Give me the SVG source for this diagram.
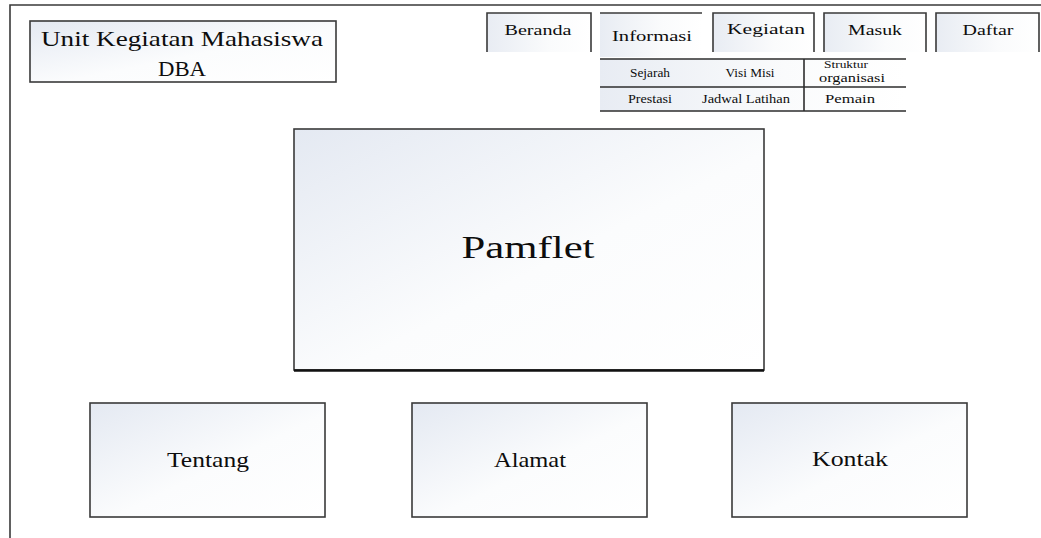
<svg xmlns="http://www.w3.org/2000/svg" width="1041" height="538" viewBox="0 0 1041 538">
  <defs>
    <linearGradient id="panelFill" x1="0" y1="0" x2="1" y2="1">
      <stop offset="0" stop-color="#e4e9f2"/>
      <stop offset="0.55" stop-color="#fbfcfd"/>
      <stop offset="1" stop-color="#ffffff"/>
    </linearGradient>
    <linearGradient id="rowFill" x1="0" y1="0" x2="1" y2="0">
      <stop offset="0" stop-color="#e8ecf3"/>
      <stop offset="0.6" stop-color="#fafbfc"/>
      <stop offset="1" stop-color="#ffffff"/>
    </linearGradient>
    <style>
      .frame { fill: none; stroke: #3a3a3a; stroke-width: 1.6; }
      .box { fill: url(#panelFill); stroke: #3a3a3a; stroke-width: 1.6; }
      .edge { fill: none; stroke: #3a3a3a; stroke-width: 1.6; }
      .row { fill: url(#rowFill); stroke: none; }
      .rule { stroke: #2e2e2e; stroke-width: 1.6; fill: none; }
      text { font-family: "Liberation Serif", "Times New Roman", serif; fill: #0d0d0d; text-anchor: middle; }
      .tab { font-size: 14px; }
      .cell { font-size: 12px; }
      .cellsm { font-size: 10px; }
      .title { font-size: 21px; }
      .big { font-size: 31px; }
      .mid { font-size: 21px; }
    </style>
  </defs>

  <rect x="0" y="0" width="1041" height="538" fill="#ffffff"/>

  <!-- page frame: top and left edges -->
  <g id="page-frame">
    <path class="frame" d="M10 538 V5 H1041"/>
  </g>

  <!-- site title -->
  <g id="title">
    <rect class="box" x="30" y="21" width="306" height="61"/>
    <text class="title" x="182" y="46" textLength="282" lengthAdjust="spacingAndGlyphs">Unit Kegiatan Mahasiswa</text>
    <text class="title" x="182" y="76" textLength="48" lengthAdjust="spacingAndGlyphs">DBA</text>
  </g>

  <!-- navigation tabs -->
  <g id="tab-beranda">
    <rect class="row" x="487" y="13" width="104" height="39"/>
    <path class="edge" d="M487 52 V13 H591 V52"/>
    <text class="tab" x="538" y="35" textLength="67" lengthAdjust="spacingAndGlyphs">Beranda</text>
  </g>
  <g id="tab-informasi">
    <rect class="row" x="600" y="13" width="102" height="44"/>
    <path class="edge" d="M600 13 H702"/>
    <text class="tab" x="652" y="41" textLength="80" lengthAdjust="spacingAndGlyphs">Informasi</text>
  </g>
  <g id="tab-kegiatan">
    <rect class="row" x="713" y="13" width="101" height="39"/>
    <path class="edge" d="M713 52 V13 H814 V52"/>
    <text class="tab" x="766" y="34" textLength="78" lengthAdjust="spacingAndGlyphs">Kegiatan</text>
  </g>
  <g id="tab-masuk">
    <rect class="row" x="824" y="13" width="102" height="39"/>
    <path class="edge" d="M824 52 V13 H926 V52"/>
    <text class="tab" x="875" y="35" textLength="54" lengthAdjust="spacingAndGlyphs">Masuk</text>
  </g>
  <g id="tab-daftar">
    <rect class="row" x="936" y="13" width="103" height="39"/>
    <path class="edge" d="M936 52 V13 H1039 V52"/>
    <text class="tab" x="988" y="35" textLength="51" lengthAdjust="spacingAndGlyphs">Daftar</text>
  </g>

  <!-- Informasi dropdown menu -->
  <g id="menu-informasi">
    <rect class="row" x="600" y="59" width="306" height="28"/>
    <rect class="row" x="600" y="87" width="306" height="24"/>
    <path class="rule" d="M600 59 H906 M600 87 H906 M600 111 H906 M804 59 V111"/>
    <text class="cell" x="650" y="77" textLength="40" lengthAdjust="spacingAndGlyphs">Sejarah</text>
    <text class="cell" x="750" y="77" textLength="49" lengthAdjust="spacingAndGlyphs">Visi Misi</text>
    <text class="cellsm" x="846" y="68" textLength="44" lengthAdjust="spacingAndGlyphs">Struktur</text>
    <text class="cell" x="852" y="82" textLength="66" lengthAdjust="spacingAndGlyphs">organisasi</text>
    <text class="cell" x="650" y="103" textLength="44" lengthAdjust="spacingAndGlyphs">Prestasi</text>
    <text class="cell" x="746" y="103" textLength="88" lengthAdjust="spacingAndGlyphs">Jadwal Latihan</text>
    <text class="cell" x="850" y="103" textLength="50" lengthAdjust="spacingAndGlyphs">Pemain</text>
  </g>

  <!-- main banner -->
  <g id="pamflet">
    <rect class="box" x="294" y="129" width="470" height="241"/>
    <path d="M294 370.5 H764" stroke="#111111" stroke-width="2.4"/>
    <text class="big" x="528" y="258" textLength="133" lengthAdjust="spacingAndGlyphs">Pamflet</text>
  </g>

  <!-- footer panels -->
  <g id="tentang">
    <rect class="box" x="90" y="403" width="235" height="114"/>
    <text class="mid" x="208" y="467" textLength="82" lengthAdjust="spacingAndGlyphs">Tentang</text>
  </g>
  <g id="alamat">
    <rect class="box" x="412" y="403" width="235" height="114"/>
    <text class="mid" x="530" y="467" textLength="72" lengthAdjust="spacingAndGlyphs">Alamat</text>
  </g>
  <g id="kontak">
    <rect class="box" x="732" y="403" width="235" height="114"/>
    <text class="mid" x="850" y="466" textLength="76" lengthAdjust="spacingAndGlyphs">Kontak</text>
  </g>
</svg>
